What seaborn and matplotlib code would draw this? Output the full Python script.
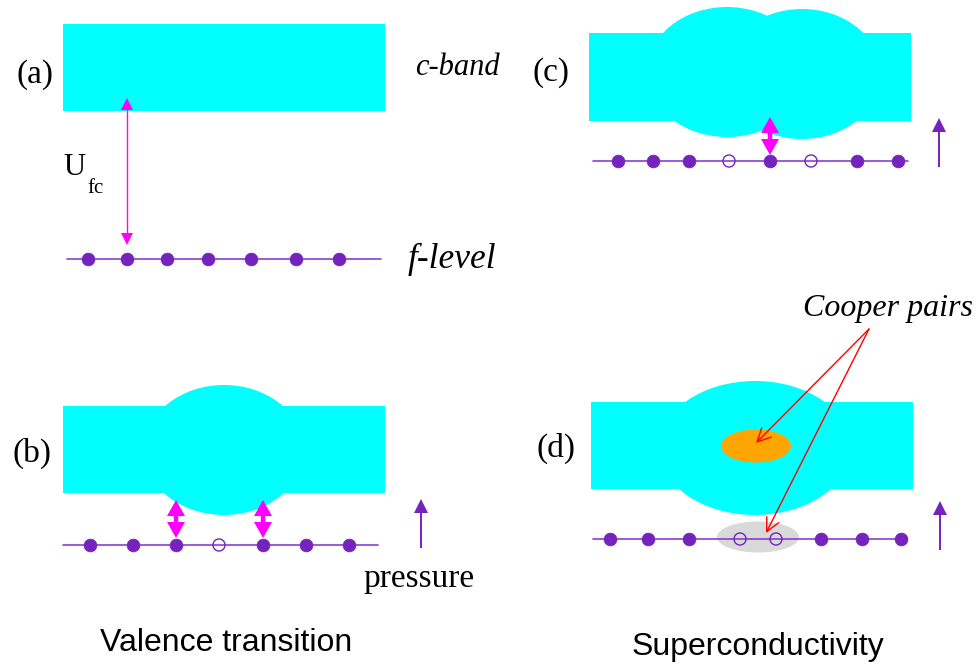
import matplotlib
matplotlib.use("Agg")
import matplotlib.pyplot as plt
import seaborn as sns
import pandas as pd
from matplotlib.patches import Rectangle, Ellipse
from matplotlib.patches import ArrowStyle

sns.set_theme(style="white")

# ---- data: f-electron sites on each f-level (x positions) and occupancy ----
sites_a = [88, 127, 167, 208, 251, 296, 339]
filled_a = [1, 1, 1, 1, 1, 1, 1]
sites_b = [90, 133, 176, 219, 263, 306, 349]
filled_b = [1, 1, 1, 0, 1, 1, 1]
sites_c = [618, 653, 689, 729, 770, 811, 857, 898]
filled_c = [1, 1, 1, 0, 1, 0, 1, 1]
sites_d = [610, 648, 689, 740, 776, 821, 862, 901]
filled_d = [1, 1, 1, 0, 0, 1, 1, 1]

panel_labels = ["(a)", "(b)", "(c)", "(d)"]
titles = ["Valence transition", "Superconductivity"]

CYAN = "#00FFFF"
PURPLE = "#7424BC"
LINEP = "#8A3FD0"
MAG = "#FF00FF"

fig = plt.figure(figsize=(9.78, 6.66), dpi=100)
ax = fig.add_axes([0, 0, 1, 1])

# ---- conduction bands ----
for (x0, y0, x1, y1) in [(63, 24, 385, 111), (63, 406, 385, 493),
                         (589, 33, 911, 121), (591, 402, 913, 489)]:
    ax.add_patch(Rectangle((x0, y0), x1 - x0, y1 - y0, color=CYAN, lw=0, zorder=1))
for (cx, cy, w, h) in [(224, 450, 160, 130), (727, 72, 160, 130),
                       (802, 74, 158, 130), (755, 448, 192, 134)]:
    ax.add_patch(Ellipse((cx, cy), w, h, color=CYAN, lw=0, zorder=1))

# Cooper pair regions
ax.add_patch(Ellipse((756, 446), 70, 33, color="#FFA500", lw=0, zorder=2))
ax.add_patch(Ellipse((758, 537), 82, 31, color="#D9D9D9", lw=0, zorder=2))

# ---- f-levels ----
levels = [(sites_a, filled_a, 259, 67, 381), (sites_b, filled_b, 545, 63, 378),
          (sites_c, filled_c, 161, 593, 908), (sites_d, filled_d, 539, 593, 907)]
for xs, fl, y, xa, xb in levels:
    ax.plot([xa, xb], [y, y], color=LINEP, lw=1.2, zorder=3)
    df = pd.DataFrame({"x": xs, "y": [y] * len(xs), "filled": fl})
    sns.scatterplot(data=df[df.filled == 1], x="x", y="y", ax=ax, s=85,
                    color=PURPLE, edgecolor=PURPLE, linewidth=0.5, zorder=4, legend=False)
    sns.scatterplot(data=df[df.filled == 0], x="x", y="y", ax=ax, s=75,
                    facecolor="none", edgecolor=PURPLE, linewidth=1.0, zorder=4, legend=False)

ax.set_xlim(0, 978)
ax.set_ylim(666, 0)
ax.set_xlabel("")
ax.set_ylabel("")
ax.axis("off")

PT = 0.72  # points per pixel at 100 dpi


def head(xt, yt, xf, yf, length_px, width_px, color):
    """Filled triangular head with tip at (xt, yt), pointing away from (xf, yf)."""
    style = ArrowStyle("-|>", head_length=length_px * PT, head_width=width_px * PT / 2)
    ax.annotate("", xy=(xt, yt), xytext=(xf, yf),
                arrowprops=dict(arrowstyle=style, color=color, lw=0,
                                mutation_scale=1, shrinkA=0, shrinkB=0),
                zorder=6)


def vertical_arrow(x, y_tail, y_tip, lw, hl, hw, color, both=False):
    sgn = 1 if y_tip > y_tail else -1
    y0 = y_tail + (sgn * hl * 0.8 if both else 0)
    y1 = y_tip - sgn * hl * 0.8
    ax.plot([x, x], [y0, y1], color=color, lw=lw, zorder=5, solid_capstyle="butt")
    mid = (y_tail + y_tip) / 2
    head(x, y_tip, x, mid, hl, hw, color)
    if both:
        head(x, y_tail, x, mid, hl, hw, color)


# U_fc arrow (a)
vertical_arrow(127, 245, 98, 1.0, 12, 12, MAG, both=True)
# hybridisation arrows (b), (c)
for x in [176, 263]:
    vertical_arrow(x, 538, 500, 3.2, 16, 18, MAG, both=True)
vertical_arrow(770, 155, 117, 3.2, 16, 18, MAG, both=True)
# pressure arrows
for (x, yb, yt) in [(421, 548, 499), (939, 167, 118), (940, 550, 501)]:
    vertical_arrow(x, yb, yt, 1.4, 14, 14, PURPLE)

# red pointer arrows
red = ArrowStyle("->", head_length=0.6, head_width=0.3)
for (xt, yt) in [(756, 443), (766, 533)]:
    ax.annotate("", xy=(xt, yt), xytext=(869, 329),
                arrowprops=dict(arrowstyle=red, color="#FF0000", lw=1.0,
                                mutation_scale=16, shrinkA=0, shrinkB=0),
                zorder=7)

# ---- text ----
SERIF = "Liberation Serif"
SANS = "Liberation Sans"
K = "black"
ax.text(17, 83, panel_labels[0], family=SERIF, fontsize=24, va="baseline", ha="left", color=K)
ax.text(12, 462, panel_labels[1], family=SERIF, fontsize=24, va="baseline", ha="left", color=K)
ax.text(533, 81, panel_labels[2], family=SERIF, fontsize=24, va="baseline", ha="left", color=K)
ax.text(537, 457, panel_labels[3], family=SERIF, fontsize=24, va="baseline", ha="left", color=K)
ax.text(415, 75, "c-band", family=SERIF, style="italic", fontsize=22, va="baseline", ha="left", color=K)
ax.text(408, 268, "f-level", family=SERIF, style="italic", fontsize=25.5, va="baseline", ha="left", color=K)
ax.text(63, 175, "U", family=SERIF, fontsize=22, va="baseline", ha="left", color=K)
ax.text(87, 193, "fc", family=SERIF, fontsize=15, va="baseline", ha="left", color=K)
ax.text(363, 587, "pressure", family=SERIF, fontsize=24, va="baseline", ha="left", color=K)
ax.text(803, 316, "Cooper pairs", family=SERIF, style="italic", fontsize=23, va="baseline", ha="left", color=K)
ax.text(226, 651, titles[0], family=SANS, fontsize=23, va="baseline", ha="center", color=K)
ax.text(758, 655, titles[1], family=SANS, fontsize=23, va="baseline", ha="center", color=K)

fig.savefig("out.png", dpi=100, facecolor="white")
